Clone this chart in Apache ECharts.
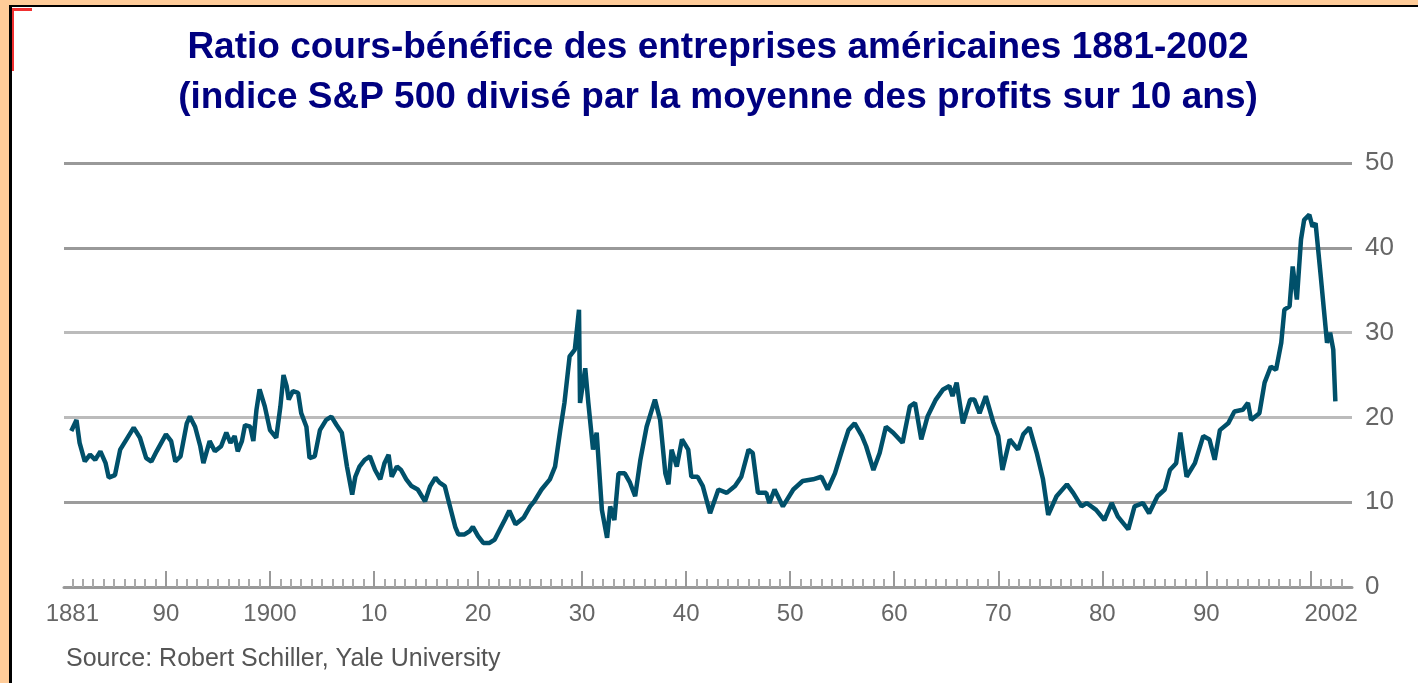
<!DOCTYPE html>
<html lang="fr">
<head>
  <meta charset="UTF-8">
  <title>Ratio cours-bénéfice 1881-2002</title>
  <style>
    body { margin: 0; background: #FFCC99; }
    .frame {
      position: absolute;
      left: 9px; top: 5px;
      width: 1406px; height: 678px;
      border-left: 3px solid #000;
      border-top: 2px solid #000;
      background: #fff;
    }
    .red_h { position: absolute; left: 12px; top: 8px; width: 20px; height: 3px; background: #f03030; }
    .red_v { position: absolute; left: 12px; top: 8px; width: 2px; height: 63px; background: #f03030; }
    #myChart { position: absolute; left: 0; top: 0; width: 1418px; height: 683px; }
  </style>
  <script src="https://cdn.jsdelivr.net/npm/echarts@6.0.0/dist/echarts.min.js"></script>
</head>
<body>
<div class="frame"></div>
<div class="red_h"></div>
<div class="red_v"></div>
<div id="myChart"></div>
<script>
// valeurs (annee, ratio)
var years = [
  1880.9, 1881.4, 1881.7, 1882.2, 1882.7, 1883.2, 1883.7, 1884.2, 1884.5, 1885.1,
  1885.6, 1886.4, 1886.9, 1887.5, 1888.1, 1888.6, 1889.1, 1890.0, 1890.5, 1890.9,
  1891.4, 1892.0, 1892.3, 1892.8, 1893.3, 1893.6, 1894.2, 1894.7, 1895.3, 1895.8,
  1896.2, 1896.6, 1896.9, 1897.3, 1897.6, 1898.1, 1898.4, 1898.7, 1899.0, 1899.5,
  1900.0, 1900.6, 1901.0, 1901.3, 1901.6, 1901.8, 1902.2, 1902.7, 1903.0, 1903.5,
  1903.8, 1904.3, 1904.8, 1905.4, 1905.9, 1906.4, 1906.9, 1907.4, 1907.9, 1908.2,
  1908.6, 1909.1, 1909.6, 1910.1, 1910.6, 1911.0, 1911.4, 1911.7, 1912.2, 1912.6,
  1913.1, 1913.6, 1914.2, 1914.9, 1915.4, 1915.9, 1916.3, 1916.8, 1917.3, 1917.8,
  1918.1, 1918.7, 1919.2, 1919.5, 1920.0, 1920.5, 1921.1, 1921.6, 1922.1, 1922.6,
  1923.0, 1923.6, 1924.4, 1925.0, 1925.4, 1926.1, 1926.9, 1927.4, 1927.9, 1928.3,
  1928.8, 1929.3, 1929.7, 1929.8, 1930.3, 1930.6, 1931.05, 1931.4, 1931.9, 1932.4,
  1932.7, 1933.1, 1933.5, 1934.1, 1934.6, 1935.1, 1935.6, 1936.2, 1937.0, 1937.5,
  1938.0, 1938.3, 1938.6, 1939.1, 1939.6, 1940.2, 1940.5, 1941.1, 1941.6, 1942.3,
  1943.1, 1943.9, 1944.7, 1945.3, 1946.0, 1946.4, 1946.9, 1947.7, 1948.0, 1948.5,
  1949.3, 1950.3, 1951.2, 1952.2, 1953.0, 1953.6, 1954.3, 1955.1, 1955.6, 1956.2,
  1956.9, 1957.3, 1958.0, 1958.6, 1959.2, 1959.9, 1960.8, 1961.5, 1962.0, 1962.6,
  1963.2, 1964.0, 1964.7, 1965.3, 1965.6, 1966.0, 1966.6, 1967.3, 1967.7, 1968.2,
  1968.8, 1969.5, 1970.0, 1970.4, 1971.1, 1971.9, 1972.4, 1973.0, 1973.7, 1974.3,
  1974.8, 1975.6, 1976.6, 1977.2, 1978.0, 1978.5, 1979.4, 1980.2, 1980.9, 1981.5,
  1982.5, 1983.1, 1983.9, 1984.5, 1985.3, 1986.0, 1986.5, 1987.1, 1987.5, 1988.1,
  1988.9, 1989.7, 1990.3, 1990.8, 1991.3, 1992.1, 1992.7, 1993.5, 1994.0, 1994.3,
  1995.1, 1995.6, 1996.2, 1996.7, 1997.2, 1997.5, 1998.0, 1998.3, 1998.7, 1999.1,
  1999.4, 1999.9, 2000.2, 2000.5, 2001.0, 2001.3, 2001.6, 2001.9, 2002.2, 2002.4
];
var ratio = [
  18.4, 19.7, 17.0, 14.8, 15.6, 15.0, 16.0, 14.6, 12.9, 13.2,
  16.2, 17.8, 18.8, 17.6, 15.2, 14.8, 16.0, 18.0, 17.2, 14.8,
  15.4, 19.3, 20.1, 18.9, 16.6, 14.6, 17.2, 16.0, 16.6, 18.2,
  17.0, 17.8, 16.0, 17.2, 19.1, 18.9, 17.2, 20.9, 23.3, 21.3,
  18.5, 17.6, 21.3, 25.0, 23.7, 22.1, 23.1, 22.9, 20.5, 18.9,
  15.2, 15.4, 18.5, 19.7, 20.1, 19.1, 18.2, 14.2, 10.9, 13.0,
  14.2, 15.0, 15.4, 13.8, 12.7, 14.6, 15.6, 13.0, 14.2, 13.8,
  12.7, 11.9, 11.5, 10.1, 11.9, 12.9, 12.3, 11.9, 9.5, 7.1,
  6.2, 6.2, 6.6, 7.1, 6.0, 5.2, 5.2, 5.6, 6.8, 8.0,
  9.0, 7.4, 8.2, 9.5, 10.1, 11.5, 12.7, 14.2, 18.5, 21.7,
  27.2, 28.0, 32.7, 21.7, 25.8, 21.7, 16.2, 18.2, 9.1, 5.8,
  9.5, 7.9, 13.4, 13.4, 12.3, 10.7, 15.0, 18.9, 22.1, 19.7,
  13.4, 12.1, 16.2, 14.2, 17.4, 16.2, 13.0, 13.0, 11.9, 8.7,
  11.5, 11.1, 11.9, 13.0, 16.2, 15.8, 11.1, 11.1, 9.9, 11.5,
  9.5, 11.5, 12.5, 12.7, 13.0, 11.5, 13.4, 16.6, 18.5, 19.3,
  17.8, 16.6, 13.8, 15.8, 18.9, 18.2, 17.0, 21.3, 21.7, 17.4,
  20.1, 22.1, 23.3, 23.7, 22.5, 24.1, 19.3, 22.1, 22.1, 20.5,
  22.5, 19.5, 17.8, 13.8, 17.4, 16.2, 18.0, 18.8, 15.8, 12.7,
  8.5, 10.7, 12.1, 11.1, 9.5, 9.9, 9.1, 7.9, 9.9, 8.3,
  6.8, 9.5, 9.9, 8.7, 10.7, 11.5, 13.8, 14.6, 18.2, 13.0,
  14.6, 17.8, 17.4, 15.0, 18.5, 19.3, 20.7, 20.9, 21.7, 19.7,
  20.5, 24.1, 26.0, 25.6, 28.8, 32.7, 33.1, 37.8, 33.9, 41.0,
  43.3, 43.9, 42.5, 42.9, 36.6, 32.7, 28.8, 30.0, 28.0, 21.9
];

// etiquettes de l'axe des annees
var xLabelYears = [1881, 1890, 1900, 1910, 1920, 1930, 1940, 1950, 1960, 1970, 1980, 1990, 2002];
var xLabelTexts = ['1881', '90', '1900', '10', '20', '30', '40', '50', '60', '70', '80', '90', '2002'];
var decadeTicks = [1890, 1900, 1910, 1920, 1930, 1940, 1950, 1960, 1970, 1980, 1990, 2000];

var yearTicks = [];
for (var y = 1881; y <= 2003; y++) {
  if (decadeTicks.indexOf(y) < 0) yearTicks.push(y);
}

var seriesData = years.map(function (yr, i) { return [yr, ratio[i]]; });

var myChart = echarts.init(document.getElementById('myChart'));
var option = {
  animation: false,
  backgroundColor: 'transparent',
  graphic: [
    {
      type: 'text',
      x: 718,
      y: 73,
      style: {
        text: 'Ratio cours-bénéfice des entreprises américaines 1881-2002\n(indice S&P 500 divisé par la moyenne des profits sur 10 ans)',
        textAlign: 'center',
        textVerticalAlign: 'middle',
        font: 'bold 37px "Liberation Sans", Arial, sans-serif',
        lineHeight: 50,
        fill: '#000080'
      }
    },
    {
      type: 'text',
      x: 66,
      y: 659,
      style: {
        text: 'Source: Robert Schiller, Yale University',
        textVerticalAlign: 'middle',
        font: '25px "Liberation Sans", Arial, sans-serif',
        fill: '#555'
      }
    }
  ],
  grid: {
    left: 64,
    right: 66,
    top: 163,
    bottom: 96,
    outerBoundsMode: 'none'
  },
  xAxis: [
    {
      type: 'value',
      min: 1880.2,
      max: 2004,
      position: 'bottom',
      axisLine: { show: true, lineStyle: { color: '#999', width: 3 } },
      axisTick: {
        show: true,
        inside: true,
        length: 8,
        customValues: yearTicks,
        lineStyle: { color: '#aaa', width: 2 }
      },
      axisLabel: { show: false },
      splitLine: { show: false }
    },
    {
      type: 'value',
      min: 1880.2,
      max: 2004,
      position: 'bottom',
      axisLine: { show: false },
      axisTick: {
        show: true,
        inside: true,
        length: 16,
        customValues: decadeTicks,
        lineStyle: { color: '#999', width: 2 }
      },
      axisLabel: {
        show: true,
        customValues: xLabelYears,
        formatter: function (v) {
          var i = xLabelYears.indexOf(Math.round(v));
          return i >= 0 ? xLabelTexts[i] : '';
        },
        margin: 15,
        fontSize: 24,
        fontFamily: '"Liberation Sans", Arial, sans-serif',
        color: '#666'
      },
      splitLine: { show: false }
    }
  ],
  yAxis: {
    type: 'value',
    position: 'right',
    min: 0,
    max: 50,
    interval: 10,
    axisLine: { show: false },
    axisTick: { show: false },
    axisLabel: {
      margin: 13,
      fontSize: 26,
      fontFamily: '"Liberation Sans", Arial, sans-serif',
      color: '#666'
    },
    splitLine: {
      show: true,
      lineStyle: {
        color: ['#999', '#9c9c9c', '#bbb', '#bbb', '#999', '#999'],
        width: 3
      }
    }
  },
  series: [
    {
      type: 'line',
      xAxisIndex: 0,
      data: seriesData,
      showSymbol: false,
      lineStyle: { color: '#00506A', width: 4.5 },
      z: 5
    }
  ]
};
myChart.setOption(option);
</script>
</body>
</html>
